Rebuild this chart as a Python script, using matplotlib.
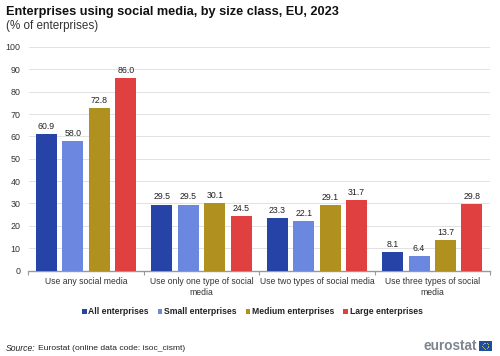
import matplotlib
matplotlib.use("Agg")
import matplotlib.pyplot as plt
import numpy as np
from matplotlib.patches import Rectangle

categories = [
    "Use any social media",
    "Use only one type of social\nmedia",
    "Use two types of social media",
    "Use three types of social\nmedia",
]
all_ent = [60.9, 29.5, 23.3, 8.1]
small_ent = [58.0, 29.5, 22.1, 6.4]
medium_ent = [72.8, 30.1, 29.1, 13.7]
large_ent = [86.0, 24.5, 31.7, 29.8]
series_names = ["All enterprises", "Small enterprises", "Medium enterprises", "Large enterprises"]
colors = ["#2644A7", "#6C87E0", "#B09120", "#E04040"]
yticks = list(range(0, 101, 10))

plt.rcParams["font.family"] = ["Liberation Sans", "DejaVu Sans"]

W, H = 500, 356
fig = plt.figure(figsize=(W / 100, H / 100), dpi=100)
ax = fig.add_axes([28.5 / W, 1 - 270.5 / H, 461.5 / W, 223.5 / H])

x = np.arange(len(categories))
pitch = 0.229
bar_w = 0.182
series = [all_ent, small_ent, medium_ent, large_ent]
for i, vals in enumerate(series):
    pos = x + (i - 1.5) * pitch
    ax.bar(pos, vals, width=bar_w, color=colors[i], zorder=3)
    for p, v in zip(pos, vals):
        ax.text(p, v + 1.4, f"{v:.1f}", ha="center", va="bottom", fontsize=6.3,
                color="#222222", zorder=4)

ax.set_xlim(-0.5, 3.5)
ax.set_ylim(0, 100)
ax.set_yticks(yticks)
ax.tick_params(axis="y", length=0, labelsize=6.4, labelcolor="#333333", pad=5.6)
ax.set_xticks(np.arange(-0.5, 4, 1))
ax.set_xticklabels([])
ax.tick_params(axis="x", length=3, color="#999999", width=0.8)
ax.grid(axis="y", color="#E2E2E2", linewidth=0.7, zorder=0)
ax.set_axisbelow(True)
for s in ["top", "right", "left"]:
    ax.spines[s].set_visible(False)
ax.spines["bottom"].set_color("#999999")
ax.spines["bottom"].set_linewidth(1.0)
for i, c in enumerate(categories):
    ax.text(i, -2.9, c, ha="center", va="top", fontsize=6.2, color="#333333", linespacing=1.25)

# title block
fig.text(5.5 / W, 1 - 11.5 / H, "Enterprises using social media, by size class, EU, 2023",
         fontsize=9.2, fontweight="bold", color="#111111", va="center")
fig.text(5.5 / W, 1 - 26 / H, "(% of enterprises)", fontsize=8.4, color="#333333", va="center")

# legend
legend_x = [82, 157.5, 245.5, 343]
for lx, name, col in zip(legend_x, series_names, colors):
    fig.add_artist(Rectangle((lx / W, 1 - 313.5 / H), 4.7 / W, 4.7 / H, transform=fig.transFigure,
                             color=col, linewidth=0))
    fig.text((lx + 6.5) / W, 1 - 311.3 / H, name, fontsize=6.2, fontweight="bold",
             color="#222222", va="center")

# source
fig.text(5.5 / W, 1 - 348.5 / H, "Source:", fontsize=6.2, style="italic", color="#222222", va="center")
fig.text(37.5 / W, 1 - 348.5 / H, "Eurostat (online data code: isoc_cismt)", fontsize=6.1,
         color="#222222", va="center")

# logo
fig.text(477 / W, 1 - 345.5 / H, "eurostat", fontsize=9.8, fontweight="bold", color="#7F8590",
         ha="right", va="center")
fig.add_artist(Rectangle((479 / W, 1 - 350.5 / H), 12.7 / W, 9.5 / H, transform=fig.transFigure,
                         color="#1F4E9E", linewidth=0))
ang = np.linspace(0, 2 * np.pi, 12, endpoint=False)
star_x = (485.3 + 3.1 * np.cos(ang)) / W
star_y = 1 - (345.7 + 3.1 * np.sin(ang)) / H
fig.add_artist(plt.Line2D(star_x, star_y, transform=fig.transFigure, linestyle="none",
                          marker="o", markersize=0.6, color="#D8C860", markeredgewidth=0))

fig.savefig("out.png", dpi=100)
